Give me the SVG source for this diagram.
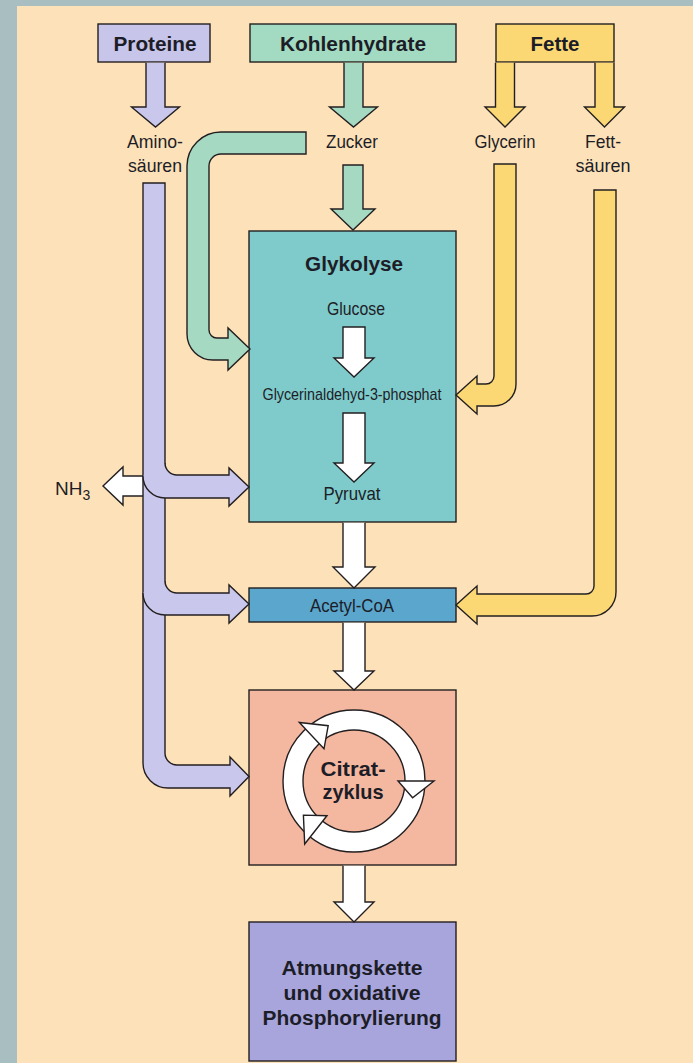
<svg xmlns="http://www.w3.org/2000/svg" width="693" height="1063" viewBox="0 0 693 1063">
<defs>
<style>
.ln{stroke:#231f20;stroke-width:1.4;stroke-linejoin:miter}
.nf{fill:none}
.t{font-family:"Liberation Sans",Arial,sans-serif;fill:#1d1d27;text-anchor:middle}
.b{font-weight:bold}
.r{font-size:19px}
.s{font-size:17px}
.bb{font-size:20px}
.pu{fill:#c9c7ec}
.gr{fill:#a5d9c2}
.ye{fill:#fbd874}
.wh{fill:#ffffff}
</style>
</defs>
<rect x="0" y="0" width="693" height="1063" fill="#a8bec1"/>
<rect x="17" y="6" width="676" height="1057" fill="#fde2b9"/>

<g id="proteine">
<rect x="98" y="24" width="112" height="38" fill="#c7c5ea" class="ln"/>
<text x="155" y="51" class="t b bb" textLength="83" lengthAdjust="spacingAndGlyphs">Proteine</text>
</g>
<g id="kohlenhydrate">
<rect x="250" y="24" width="206" height="38" fill="#a3dac2" class="ln"/>
<text x="353" y="51" class="t b bb" textLength="146" lengthAdjust="spacingAndGlyphs">Kohlenhydrate</text>
</g>
<g id="fette">
<rect x="496" y="24" width="118" height="38" fill="#fbd874" class="ln"/>
<text x="555" y="51" class="t b bb" textLength="49" lengthAdjust="spacingAndGlyphs">Fette</text>
</g>
<g id="aminosaeuren">
<text x="155" y="148" class="t r" textLength="56" lengthAdjust="spacingAndGlyphs">Amino-</text>
<text x="155" y="172" class="t r" textLength="54" lengthAdjust="spacingAndGlyphs">säuren</text>
</g>
<g id="zucker">
<text x="352" y="148" class="t r" textLength="52" lengthAdjust="spacingAndGlyphs">Zucker</text>
</g>
<g id="glycerin">
<text x="505" y="148" class="t r" textLength="61" lengthAdjust="spacingAndGlyphs">Glycerin</text>
</g>
<g id="fettsaeuren">
<text x="603" y="148" class="t r" textLength="36" lengthAdjust="spacingAndGlyphs">Fett-</text>
<text x="603" y="172" class="t r" textLength="55" lengthAdjust="spacingAndGlyphs">säuren</text>
</g>
<g id="nh3">
<text x="55" y="495" class="t r" style="text-anchor:start">NH<tspan font-size="14" dy="5">3</tspan></text>
</g>
<g id="glykolyse">
<rect x="249" y="231" width="207" height="291" fill="#7fcbcb" class="ln"/>
<text x="354" y="271" class="t b bb" textLength="98" lengthAdjust="spacingAndGlyphs">Glykolyse</text>
<text x="356" y="315" class="t r" textLength="58" lengthAdjust="spacingAndGlyphs">Glucose</text>
<text x="352" y="400" class="t s" textLength="179" lengthAdjust="spacingAndGlyphs">Glycerinaldehyd-3-phosphat</text>
<text x="352" y="500" class="t r" textLength="57" lengthAdjust="spacingAndGlyphs">Pyruvat</text>
</g>
<g id="acetylcoa">
<rect x="249" y="588" width="207" height="34" fill="#5aa6cc" class="ln"/>
<text x="352" y="612" class="t r" textLength="84" lengthAdjust="spacingAndGlyphs">Acetyl-CoA</text>
</g>
<g id="citratzyklus">
<rect x="249" y="690" width="207" height="175" fill="#f4b7a0" class="ln"/>
<path d="M425,781 A71,71 0 1 0 283,781 A71,71 0 1 0 425,781 Z M405,781 A51,51 0 1 0 303,781 A51,51 0 1 0 405,781 Z" fill="#ffffff" fill-rule="evenodd" class="ln"/>
<polygon points="299.4,722.5 324,748.8 328.2,725.7" fill="#ffffff" class="ln"/>
<polygon points="398,781 434,781 412.6,797.8" fill="#ffffff" class="ln"/>
<polygon points="326.9,815.7 304.7,844 303.4,815.1" fill="#ffffff" class="ln"/>
<text x="353" y="776" class="t b" font-size="21" textLength="65" lengthAdjust="spacingAndGlyphs">Citrat-</text>
<text x="353" y="799" class="t b" font-size="21" textLength="61" lengthAdjust="spacingAndGlyphs">zyklus</text>
</g>
<g id="atmungskette">
<rect x="249" y="922" width="207" height="139" fill="#a8a5dd" class="ln"/>
<text x="352" y="975" class="t b bb" textLength="141" lengthAdjust="spacingAndGlyphs">Atmungskette</text>
<text x="352" y="1000" class="t b bb" textLength="137" lengthAdjust="spacingAndGlyphs">und oxidative</text>
<text x="352" y="1025" class="t b bb" textLength="179" lengthAdjust="spacingAndGlyphs">Phosphorylierung</text>
</g>

<g id="connectors">
<!-- top arrows -->
<path d="M146,62.7 L146,107 L131.5,107 L155.5,127 L179.5,107 L165,107 L165,62.7" class="pu ln"/>
<path d="M344,62.7 L344,107 L329.5,107 L353.5,127 L377.5,107 L363,107 L363,62.7" class="gr ln"/>
<path d="M495.5,62.7 L495.5,107 L485,107 L505,127 L525,107 L514.5,107 L514.5,62.7" class="ye ln"/>
<path d="M595,62.7 L595,107 L584.5,107 L604.5,127 L624.5,107 L614,107 L614,62.7" class="ye ln"/>
<!-- Zucker to Glykolyse -->
<path d="M343,165 L363,165 L363,209 L375,209 L353,230 L331,209 L343,209 Z" class="gr ln"/>
<!-- Zucker bent arrow -->
<path d="M306,132 L221,132 A34,34 0 0 0 187,166 L187,334 A26,26 0 0 0 213,360 L228,360 L228,370 L250,349 L228,328 L228,338 L217,338 A8,8 0 0 1 209,330 L209,166 A12,12 0 0 1 221,154 L306,154 Z" class="gr ln"/>
<!-- Glycerin -->
<path d="M494,164 L516,164 L516,384 A22,22 0 0 1 494,406 L477,406 L477,414 L456,395 L477,376 L477,384 L486,384 A8,8 0 0 0 494,376 Z" class="ye ln"/>
<!-- Fettsaeuren -->
<path d="M594,190 L616,190 L616,592 A24,24 0 0 1 592,616 L477,616 L477,624 L456,605 L477,586 L477,594 L586,594 A8,8 0 0 0 594,586 Z" class="ye ln"/>
<!-- NH3 -->
<path d="M152,476 L123,476 L123,467 L103,486 L123,505 L123,496 L152,496 Z" class="wh ln"/>
<!-- Aminosaeuren main -->
<path d="M143,183 L165,183 L165,753 A12,12 0 0 0 177,765 L230,765 L230,757 L249,776.5 L230,796 L230,788 L168,788 A25,25 0 0 1 143,763 Z" class="pu ln"/>
<path d="M143,476 A22,22 0 0 0 165,498 L229,498 L229,506 L249,487 L229,468 L229,475 L177,475 A12,12 0 0 1 165,463 Z" class="pu"/>
<path d="M143,476 A22,22 0 0 0 165,498 L229,498 L229,506 L249,487 L229,468 L229,475 L177,475 A12,12 0 0 1 165,463" class="nf ln"/>
<path d="M143,593 A22,22 0 0 0 165,615 L229,615 L229,623 L249,604 L229,585 L229,593 L177,593 A12,12 0 0 1 165,581 Z" class="pu"/>
<path d="M143,593 A22,22 0 0 0 165,615 L229,615 L229,623 L249,604 L229,585 L229,593 L177,593 A12,12 0 0 1 165,581" class="nf ln"/>
<!-- white arrows -->
<path d="M343,327 L365,327 L365,358 L374,358 L354,377 L334,358 L343,358 Z" class="wh ln"/>
<path d="M343,413 L365,413 L365,463 L374,463 L354,482 L334,463 L343,463 Z" class="wh ln"/>
<path d="M343,522.7 L343,567 L333,567 L354,588 L375,567 L365,567 L365,522.7" class="wh ln"/>
<path d="M343,622.7 L343,671 L334,671 L354,690 L374,671 L365,671 L365,622.7" class="wh ln"/>
<path d="M343,865.7 L343,902 L334,902 L354,922 L374,902 L365,902 L365,865.7" class="wh ln"/>
</g>
</svg>
